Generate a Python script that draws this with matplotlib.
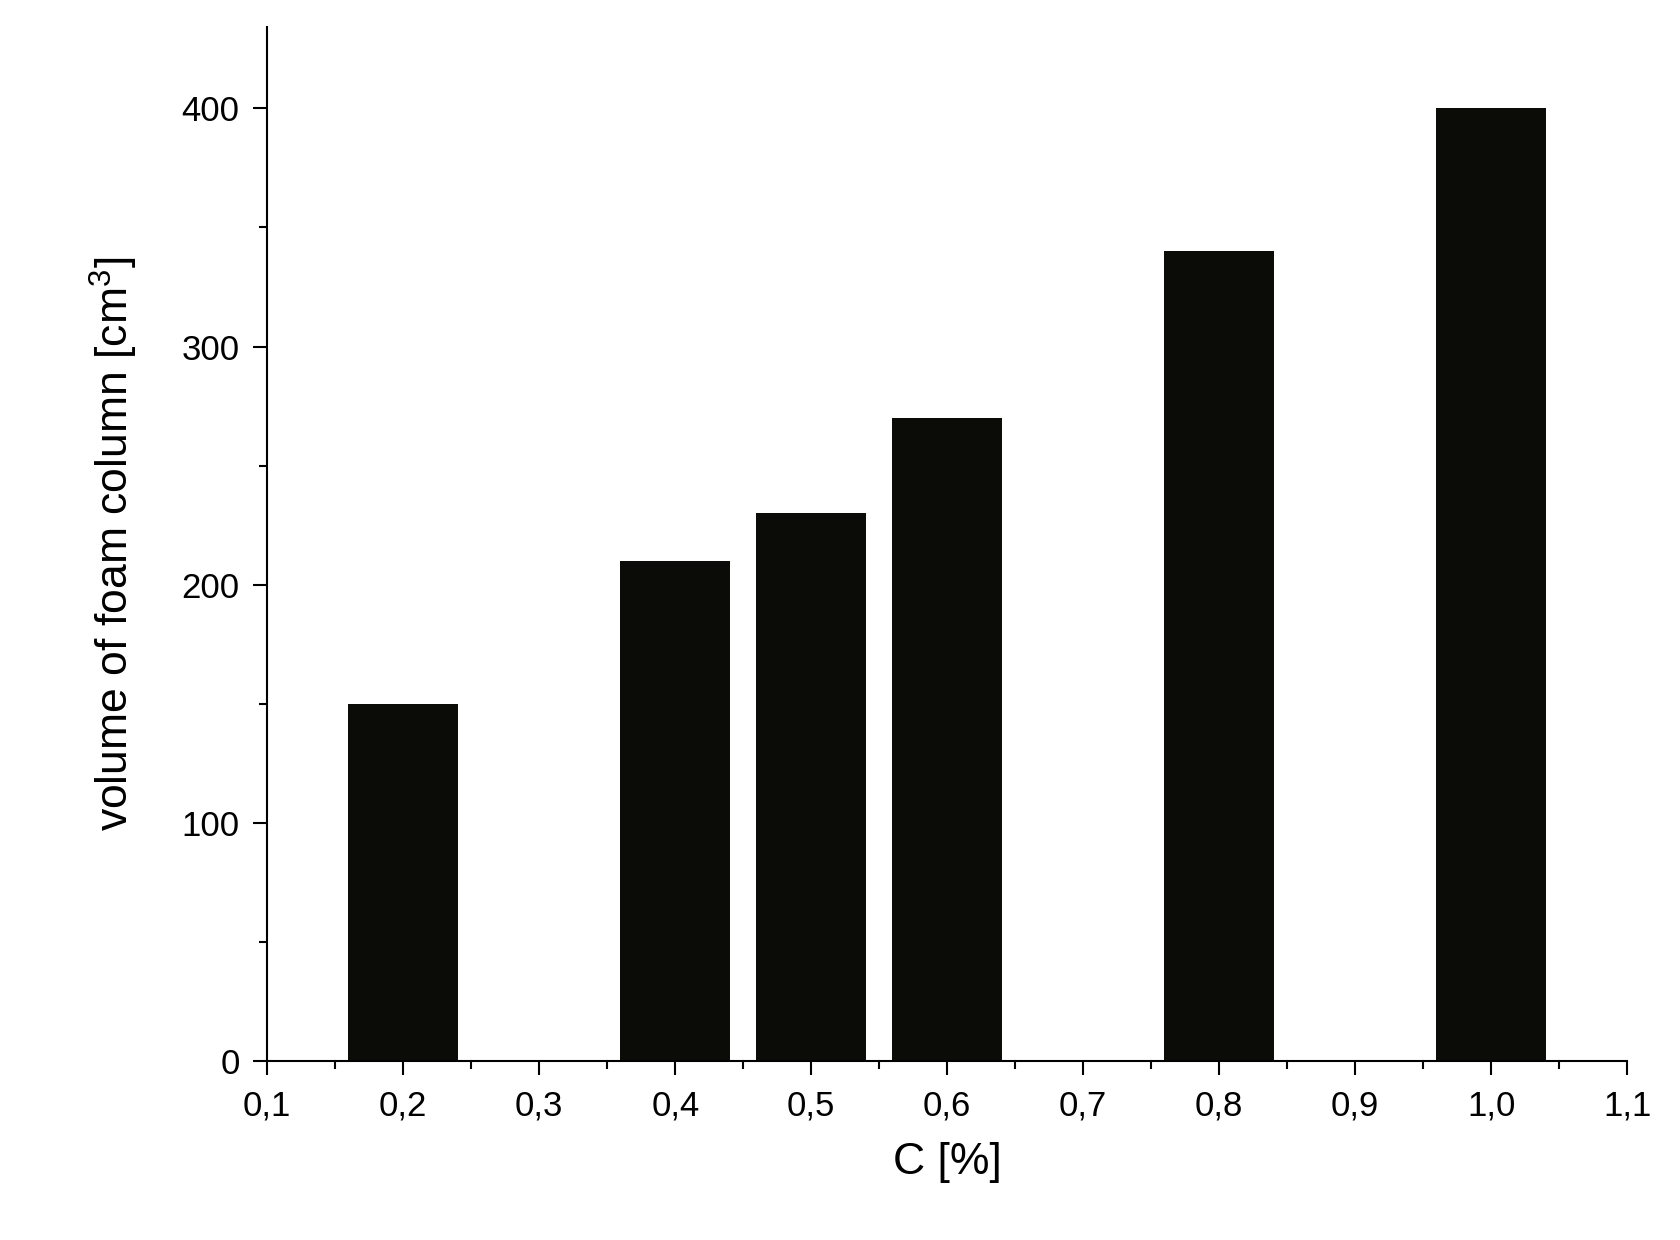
import numpy as np
import matplotlib.pyplot as plt
from matplotlib.ticker import MultipleLocator, FuncFormatter

plt.rcParams['font.family'] = ['Liberation Sans', 'DejaVu Sans']
plt.rcParams['mathtext.fontset'] = 'custom'
plt.rcParams['mathtext.rm'] = 'Liberation Sans'

# Foam column volume vs concentration
conc = [0.2, 0.4, 0.5, 0.6, 0.8, 1.0]          # C [%]
volume = [150, 210, 230, 270, 340, 400]        # cm^3

fig = plt.figure(figsize=(16.81, 12.40), dpi=100)
ax = fig.add_axes([0.159, 0.144, 0.809, 0.834])
ax.bar(conc, volume, width=0.081, color='#0b0c08')

ax.set_xlim(0.1, 1.1)
ax.set_ylim(0, 434)
ax.xaxis.set_major_locator(MultipleLocator(0.1))
ax.xaxis.set_minor_locator(MultipleLocator(0.05))
ax.yaxis.set_major_locator(MultipleLocator(100))
ax.yaxis.set_minor_locator(MultipleLocator(50))
ax.xaxis.set_major_formatter(FuncFormatter(lambda v, p: f'{v:.1f}'.replace('.', ',')))

for s in ['top', 'right']:
    ax.spines[s].set_visible(False)
for s in ['left', 'bottom']:
    ax.spines[s].set_linewidth(1.5)
ax.tick_params(which='major', length=10, width=1.5, labelsize=25, direction='out', pad=10)
ax.tick_params(which='minor', length=6, width=1.5, direction='out')

ax.set_xlabel('C [%]', fontsize=32, labelpad=14)
ax.set_ylabel('volume of foam column [cm$^\\mathrm{3}$]', fontsize=32, labelpad=30)

fig.savefig('out.png')
